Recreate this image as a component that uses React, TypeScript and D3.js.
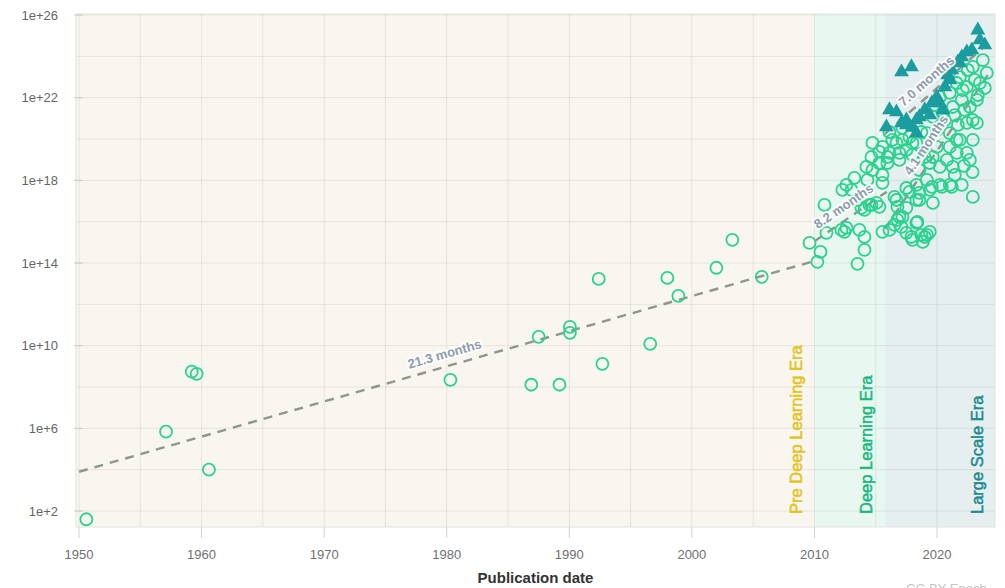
import React from "react";
import * as d3 from "d3";

// ---------- DATA ----------
const xTickYears = [1950, 1960, 1970, 1980, 1990, 2000, 2010, 2020];
const yTickExponents = [2, 6, 10, 14, 18, 22, 26];
const yTickLabels = ["1e+2", "1e+6", "1e+10", "1e+14", "1e+18", "1e+22", "1e+26"];

const eraNames = ["Pre Deep Learning Era", "Deep Learning Era", "Large Scale Era"];
const eraBounds: [number, number][] = [
  [1949.755, 2010.0],
  [2010.0, 2015.75],
  [2015.75, 2024.73],
];

// regular-scale models: [publication year, log10(training FLOP)]
const regularModels: [number, number][] = [
  [1950.6, 1.6], [1957.1, 5.84], [1959.2, 8.74], [1959.6, 8.64], [1960.6, 4.0],
  [1980.3, 8.35], [1986.9, 8.11], [1987.5, 10.43], [1989.2, 8.11], [1990.05, 10.91],
  [1990.05, 10.62], [1992.4, 13.23], [1992.7, 9.12], [1996.6, 10.09], [1998.0, 13.28],
  [1998.9, 12.41], [2002.0, 13.77], [2003.3, 15.12], [2005.7, 13.33], [2009.6, 14.97],
  [2010.24, 14.06], [2010.49, 14.54], [2010.82, 16.81], [2010.98, 15.46], [2012.2, 15.6],
  [2012.45, 15.51], [2012.61, 15.7], [2012.61, 17.78], [2013.02, 17.54], [2013.26, 18.12],
  [2012.28, 17.54], [2013.51, 17.05], [2013.67, 15.6], [2014.08, 15.26], [2014.08, 14.64],
  [2013.51, 13.96], [2013.83, 16.67], [2014.08, 16.57], [2014.49, 16.81], [2014.65, 16.81],
  [2015.06, 16.91], [2015.3, 16.72], [2014.24, 18.65], [2014.32, 18.02], [2014.73, 18.5],
  [2014.73, 19.81], [2014.65, 19.13], [2015.3, 19.38], [2015.55, 18.26], [2015.55, 17.88],
  [2015.3, 18.84], [2015.55, 15.51], [2015.55, 19.62],
  [2016.12, 15.6], [2016.53, 15.85], [2015.95, 19.13], [2015.95, 18.84], [2016.12, 19.33],
  [2016.12, 20.34], [2016.36, 19.96], [2016.69, 19.81], [2016.93, 19.33], [2016.93, 18.99],
  [2017.18, 19.96], [2017.18, 20.54], [2017.5, 19.47], [2017.75, 20.1], [2017.99, 19.81],
  [2017.99, 19.23], [2018.32, 19.81], [2018.72, 20.34], [2016.53, 17.2], [2016.69, 17.05],
  [2016.77, 16.72], [2016.77, 16.09], [2016.93, 16.23], [2017.18, 16.23], [2017.1, 15.75],
  [2017.5, 15.46], [2017.5, 16.67], [2017.5, 17.63], [2017.75, 17.44], [2017.91, 15.26],
  [2017.99, 15.12], [2018.32, 15.94], [2018.32, 17.05], [2018.32, 17.78], [2018.4, 15.99],
  [2018.56, 17.39], [2018.56, 17.05], [2018.56, 18.5], [2018.72, 15.36], [2018.84, 15.02],
  [2019.0, 15.26], [2019.17, 15.36], [2019.41, 15.51], [2019.17, 18.02], [2019.0, 19.13],
  [2019.41, 18.84], [2019.41, 17.54], [2019.58, 17.68], [2019.66, 16.91], [2019.66, 19.13],
  [2019.98, 19.62], [2019.98, 20.44], [2019.17, 20.29], [2020.23, 18.65], [2020.23, 17.78],
  [2020.39, 17.68], [2020.8, 18.99], [2021.04, 19.62], [2021.04, 17.78], [2021.2, 17.68],
  [2021.29, 18.65], [2021.61, 19.33], [2021.86, 19.96], [2022.43, 19.33], [2022.68, 18.99],
  [2022.92, 19.96], [2022.92, 17.2], [2022.43, 20.78], [2023.25, 20.78], [2021.04, 20.29],
  [2021.61, 19.96], [2019.66, 21.07], [2020.47, 21.26], [2021.04, 22.23], [2021.29, 21.55],
  [2021.61, 22.71], [2021.86, 23.0], [2022.43, 22.52], [2022.68, 21.55], [2022.92, 23.49],
  [2023.25, 21.89], [2023.49, 22.71], [2023.74, 23.82], [2024.06, 23.2], [2022.92, 20.92],
  [2023.9, 22.47], [2019.82, 21.65], [2020.23, 22.03], [2020.64, 20.92], [2021.45, 21.16],
  [2022.02, 21.89], [2022.23, 21.41], [2021.7, 20.68], [2023.08, 22.86], [2023.33, 22.13],
  [2022.51, 23.34], [2022.1, 22.37], [2022.02, 17.78], [2021.45, 18.26], [2022.2, 18.7],
  [2022.9, 18.4],
];

// large-scale models: [publication year, log10(training FLOP)]
const largeScaleModels: [number, number][] = [
  [2023.33, 25.27], [2023.9, 24.55], [2023.49, 24.79], [2022.84, 24.31], [2022.43, 24.21],
  [2022.02, 23.97], [2021.86, 23.68], [2021.2, 23.34], [2021.04, 22.86], [2020.64, 22.52],
  [2019.98, 22.03], [2019.58, 21.74], [2019.0, 21.41], [2018.56, 21.07], [2018.32, 20.92],
  [2017.99, 20.58], [2018.32, 20.29], [2017.5, 20.92], [2017.5, 20.68], [2017.1, 20.78],
  [2016.69, 21.31], [2016.12, 21.41], [2015.87, 20.58], [2017.1, 23.24], [2017.91, 23.49],
  [2020.23, 21.74], [2020.47, 21.41], [2019.41, 21.16], [2021.7, 23.73], [2020.88, 23.1],
];

// trend lines: label, start [year, log10], end [year, log10], label anchor year
const trendLabels = ["21.3 months", "8.2 months", "7.0 months", "4.1 months"];
const trendStarts: [number, number][] = [[1950, 3.9], [2010, 15.05], [2015.75, 20.25], [2015.75, 15.65]];
const trendEnds: [number, number][] = [[2010, 14.1], [2015.9, 17.45], [2024.3, 24.7], [2024.3, 23.24]];
const trendLabelYears = [1980.1, 2012.95, 2019.8, 2019.95];

// ---------- STYLE ----------
const W = 1005;
const H = 588;
const plot = { left: 76, right: 995, top: 14, bottom: 527 };
const eraFills = ["#f8f6ee", "#e8f8f0", "#e6eff0"];
const eraTextColors = ["#e3c31c", "#17b87d", "#1f8a90"];
const circleColor = "#2ad28f";
const triangleColor = "#1b9c9e";
const font = "'Liberation Sans', Arial, Helvetica, sans-serif";

export default function App() {
  const x = d3.scaleLinear().domain([1949.755, 2024.73]).range([plot.left, plot.right]);
  const y = d3
    .scaleLog()
    .domain([Math.pow(10, 1.226), Math.pow(10, 26.05)])
    .range([plot.bottom, plot.top]);
  const yv = (e: number) => y(Math.pow(10, e));

  const gridYears = d3.range(1950, 2021, 5);
  const gridExps = d3.range(2, 27, 2);
  const tri = d3.symbol().type(d3.symbolTriangle).size(95)();

  const trendLine = d3
    .line<[number, number]>()
    .x((d) => x(d[0]))
    .y((d) => yv(d[1]));

  return (
    <svg
      width={W}
      height={H}
      style={{ position: "absolute", left: 0, top: 0, background: "#fff" }}
      fontFamily={font}
    >
      {/* era backgrounds */}
      {eraBounds.map((b, i) => (
        <rect
          key={"era" + i}
          x={x(b[0])}
          y={plot.top}
          width={x(b[1]) - x(b[0])}
          height={plot.bottom - plot.top}
          fill={eraFills[i]}
        />
      ))}
      {/* grid */}
      {gridYears.map((g) => (
        <line key={"gx" + g} x1={x(g)} x2={x(g)} y1={plot.top} y2={plot.bottom} stroke="rgba(0,0,0,0.075)" strokeWidth={1} />
      ))}
      {gridExps.map((g) => (
        <line key={"gy" + g} x1={plot.left} x2={plot.right} y1={yv(g)} y2={yv(g)} stroke="rgba(0,0,0,0.075)" strokeWidth={1} />
      ))}
      <rect
        x={plot.left}
        y={plot.top}
        width={plot.right - plot.left}
        height={plot.bottom - plot.top}
        fill="none"
        stroke="#e2e2e2"
        strokeWidth={1}
      />
      {/* x ticks */}
      {xTickYears.map((t) => (
        <g key={"xt" + t}>
          <line x1={x(t)} x2={x(t)} y1={plot.bottom} y2={plot.bottom + 11} stroke="#d0d0d0" strokeWidth={1} />
          <text x={x(t)} y={559} textAnchor="middle" fontSize={13} fill="#707070">
            {t}
          </text>
        </g>
      ))}
      {/* y ticks */}
      {yTickExponents.map((e, i) => (
        <g key={"yt" + e}>
          <line x1={plot.left - 2} x2={plot.left + 7} y1={yv(e)} y2={yv(e)} stroke="#c8c8c8" strokeWidth={1} />
          <text x={58} y={yv(e)} dy="0.35em" textAnchor="end" fontSize={13} fill="#666">
            {yTickLabels[i]}
          </text>
        </g>
      ))}
      {/* era labels */}
      {eraBounds.map((b, i) => (
        <text
          key={"el" + i}
          transform={`translate(${x(b[1]) - 12.5},${plot.bottom - 13}) rotate(-90)`}
          fontSize={16.5}
          fill={eraTextColors[i]}
          stroke={eraTextColors[i]}
          strokeWidth={0.5}
        >
          {eraNames[i]}
        </text>
      ))}
      {/* trend lines */}
      {trendLabels.map((l, i) => (
        <path
          key={"tl" + i}
          d={trendLine([trendStarts[i], trendEnds[i]]) || ""}
          fill="none"
          stroke="#8f9591"
          strokeWidth={2.4}
          strokeDasharray="9,7"
        />
      ))}
      {/* regular models */}
      {regularModels.map((d, i) => (
        <circle
          key={"c" + i}
          cx={x(d[0])}
          cy={yv(d[1])}
          r={6}
          fill="none"
          stroke={circleColor}
          strokeWidth={1.8}
        />
      ))}
      {/* large-scale models */}
      {largeScaleModels.map((d, i) => (
        <path key={"t" + i} d={tri || ""} transform={`translate(${x(d[0])},${yv(d[1])})`} fill={triangleColor} />
      ))}
      {/* trend labels */}
      {trendLabels.map((l, i) => {
        const s = trendStarts[i];
        const e = trendEnds[i];
        const ang = (Math.atan2(yv(e[1]) - yv(s[1]), x(e[0]) - x(s[0])) * 180) / Math.PI;
        const t = (trendLabelYears[i] - s[0]) / (e[0] - s[0]);
        const ly = s[1] + t * (e[1] - s[1]);
        return (
          <text
            key={"lab" + i}
            transform={`translate(${x(trendLabelYears[i])},${yv(ly)}) rotate(${ang})`}
            y={-8}
            textAnchor="middle"
            fontSize={13}
            fontWeight="bold"
            fill="#8d9bad"
            stroke="rgba(255,255,255,0.85)"
            strokeWidth={4}
            strokeLinejoin="round"
            style={{ paintOrder: "stroke" }}
          >
            {l}
          </text>
        );
      })}
      {/* axis title */}
      <text x={(plot.left + plot.right) / 2} y={583} textAnchor="middle" fontSize={15} fontWeight="bold" fill="#333">
        Publication date
      </text>
      <text x={906} y={593} fontSize={13} fill="#c4c4c4">
        CC-BY Epoch
      </text>
    </svg>
  );
}
